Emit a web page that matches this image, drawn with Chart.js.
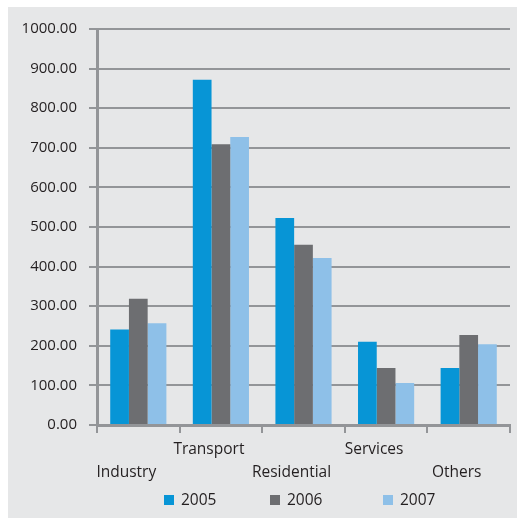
<!DOCTYPE html>
<html>
<head>
<meta charset="utf-8">
<script src="https://cdn.jsdelivr.net/npm/chart.js@4.4.1/dist/chart.umd.min.js"></script>
<style>
  html, body { margin: 0; padding: 0; background: #ffffff; }
  #panel {
    position: absolute; left: 8px; top: 7px;
    width: 509px; height: 511px;
    background: #e6e7e8;
  }
  #chart { display: block; }
</style>
</head>
<body>
<div id="panel"><canvas id="chart" width="509" height="511"></canvas></div>
<script>
// Energy use by sector, three years
const sectors = [['', 'Industry'], ['Transport'], ['', 'Residential'], ['Services'], ['', 'Others']];
const years = ['2005', '2006', '2007'];
const values2005 = [241, 872, 523, 210, 144];
const values2006 = [319, 709, 455, 144, 227];
const values2007 = [257, 727, 422, 106, 204];
const yearColors = ['#0795d6', '#6d6e71', '#8ec0e8'];

const fontFamily = '"Open Sans", "Noto Sans", sans-serif';
const inkColor = '#231f20';
const lineColor = '#939598';

// small key under the axis, drawn from the datasets
const yearKey = {
    id: 'yearKey',
    afterDraw(chart) {
        const ctx = chart.ctx;
        const startX = [156, 262, 375];
        const midY = 493;
        ctx.save();
        ctx.font = '15.5px ' + fontFamily;
        ctx.textBaseline = 'middle';
        chart.data.datasets.forEach((ds, i) => {
            ctx.fillStyle = ds.backgroundColor;
            ctx.fillRect(startX[i], midY - 5, 10, 10);
            ctx.fillStyle = inkColor;
            ctx.fillText(ds.label, startX[i] + 17, midY + 1);
        });
        ctx.restore();
    }
};

const ctx = document.getElementById('chart').getContext('2d');
const chart = new Chart(ctx, {
    type: 'bar',
    data: {
        labels: sectors,
        datasets: [
            { label: years[0], data: values2005, backgroundColor: yearColors[0] },
            { label: years[1], data: values2006, backgroundColor: yearColors[1] },
            { label: years[2], data: values2007, backgroundColor: yearColors[2] }
        ]
    },
    options: {
        responsive: false,
        animation: false,
        layout: { padding: { top: 22, right: 7, left: 0, bottom: 0 } },
        datasets: {
            bar: { categoryPercentage: 0.68, barPercentage: 1.0, borderWidth: 0 }
        },
        plugins: {
            legend: { display: false },
            tooltip: { enabled: false }
        },
        scales: {
            x: {
                grid: {
                    offset: true,
                    drawOnChartArea: false,
                    drawTicks: true,
                    tickLength: 8,
                    color: lineColor,
                    lineWidth: 2
                },
                border: { color: lineColor, width: 3 },
                ticks: {
                    color: inkColor,
                    font: { family: fontFamily, size: 15.5, lineHeight: 1.5 },
                    maxRotation: 0,
                    autoSkip: false,
                    labelOffset: -12,
                    padding: 5
                },
                afterFit: scale => { scale.height = 93; }
            },
            y: {
                min: 0,
                max: 1000,
                grid: {
                    color: lineColor,
                    lineWidth: 2,
                    tickLength: 8
                },
                border: { color: lineColor, width: 3 },
                ticks: {
                    stepSize: 100,
                    color: inkColor,
                    padding: 12,
                    font: { family: fontFamily, size: 15 },
                    callback: v => v.toFixed(2)
                },
                afterFit: scale => { scale.width = 89; }
            }
        }
    },
    plugins: [yearKey]
});
</script>
</body>
</html>
